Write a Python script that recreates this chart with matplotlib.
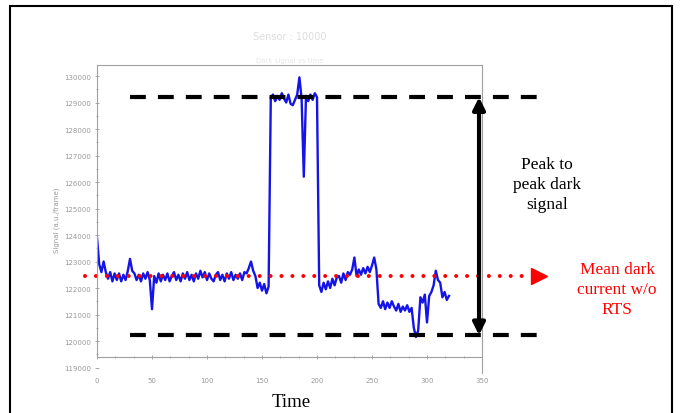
"""Dark signal with RTS jumps: peak to peak vs mean dark current"""
import numpy as np
import matplotlib.pyplot as plt
from matplotlib.patches import Rectangle
from matplotlib.ticker import MultipleLocator

# time samples (every 2 units) and signal
time = np.arange(0, 321, 2)
signal = [
    123900, 122900, 122600, 123000, 122600,
    122350, 122600, 122250, 122550, 122300,
    122550, 122250, 122500, 122300, 122650,
    123100, 122650, 122550, 122300, 122500,
    122250, 122550, 122350, 122600, 122300,
    121200, 122450, 122200, 122550, 122250,
    122500, 122300, 122550, 122250, 122450,
    122600, 122300, 122500, 122250, 122550,
    122350, 122600, 122300, 122500, 122250,
    122550, 122350, 122650, 122400, 122600,
    122300, 122550, 122350, 122250, 122500,
    122600, 122300, 122500, 122250, 122550,
    122350, 122600, 122300, 122500, 122350,
    122550, 122300, 122600, 122550, 122750,
    123000, 122650, 122450, 122000, 122200,
    121900, 122150, 121800, 122050, 129200,
    129300, 129050, 129250, 129100, 129350,
    129150, 129000, 129300, 128950, 128900,
    129100, 129300, 129950, 129150, 126200,
    129250, 129050, 129300, 129100, 129350,
    129200, 122100, 121850, 122200, 121950,
    122250, 122000, 122350, 122100, 122400,
    122450, 122200, 122550, 122300, 122600,
    122500, 122700, 123150, 122450, 122700,
    122500, 122750, 122550, 122800, 122600,
    122850, 123150, 122700, 121400, 121250,
    121500, 121200, 121450, 121250, 121500,
    121300, 121150, 121400, 121100, 121300,
    121150, 121350, 121100, 121250, 120500,
    120150, 120400, 121650, 121450, 121750,
    120700, 121700, 121850, 122100, 122650,
    122300, 122200, 121650, 121850, 121550,
    121700,
]

peak_high = 129200
peak_low = 120220
mean_dark = 122450

W, H = 687, 414
fig = plt.figure(figsize=(W / 100, H / 100), dpi=100)

# outer frame (bottom edge is off the picture)
fig.patches.append(Rectangle((10 / W, -0.1), 662 / W, 1.1 - 7 / H, fill=False,
                             lw=1.5, ec='black', transform=fig.transFigure))

ax = fig.add_axes([97 / W, 1 - 373.8 / H, 385 / W, (373.8 - 66.4) / H])
ax.plot(time, signal, color='#1414e6', lw=1.7)
ax.set_xlim(0, 350)
ax.set_ylim(118800, 130400)

for s in ax.spines.values():
    s.set_color('#a0a0a0')
    s.set_linewidth(0.8)
ax.spines['bottom'].set_position(('data', 119400))
ax.spines['left'].set_bounds(119400, 130400)

ax.set_xticks(range(0, 351, 50))
ax.set_yticks(range(119000, 130001, 1000))
ax.xaxis.set_minor_locator(MultipleLocator(50 / 3))
ax.yaxis.set_minor_locator(MultipleLocator(500))
ax.tick_params(which='both', colors='#999999', labelsize=5, length=2.5, width=0.6,
               direction='inout', pad=3)
ax.tick_params(which='minor', length=1.5)
ax.tick_params(axis='x', pad=13)
ax.set_ylabel('Signal (a.u./frame)', fontsize=5, color='#999999')
ax.yaxis.set_label_coords(-0.095, 0.5)

# peak to peak dashed levels
ax.plot([30, 402.7], [peak_high, peak_high], color='black', lw=3,
        dashes=(3.8, 2.9), clip_on=False)
ax.plot([30, 402.7], [peak_low, peak_low], color='black', lw=3,
        dashes=(3.8, 2.9), clip_on=False)
ax.annotate('', xy=(347.3, peak_high), xytext=(347.3, peak_low),
            arrowprops=dict(arrowstyle='<|-|>', color='black', lw=3,
                            mutation_scale=18, shrinkA=0, shrinkB=0),
            annotation_clip=False)

# mean dark current dotted line
ax.plot([-11, 393], [mean_dark, mean_dark], color='#ff0000', lw=2.9,
        linestyle=(0, (0.01, 2.7)), dash_capstyle='round', clip_on=False)
ax.plot([402], [mean_dark], marker='>', color='#ff0000', markersize=12,
        clip_on=False)

fig.text(547 / W, 1 - 185 / H, 'Peak to\npeak dark\nsignal', ha='center', va='center',
         family='Liberation Serif', fontsize=12.5, linespacing=1.35)
fig.text(617 / W, 1 - 290 / H, 'Mean dark\ncurrent w/o\nRTS', ha='center', va='center',
         family='Liberation Serif', fontsize=12.5, linespacing=1.35, color='#ff0000')
fig.text(291 / W, 1 - 394 / H, 'Time', ha='center', va='top',
         family='Liberation Serif', fontsize=13.5)
fig.text(290 / W, 1 - 37 / H, 'Sensor : 10000', ha='center', va='center',
         fontsize=7, color='#dddddd')
fig.text(290 / W, 1 - 61 / H, 'Dark signal vs time', ha='center', va='center',
         fontsize=5, color='#e6e6e6')

fig.savefig('out.png', dpi=100)
